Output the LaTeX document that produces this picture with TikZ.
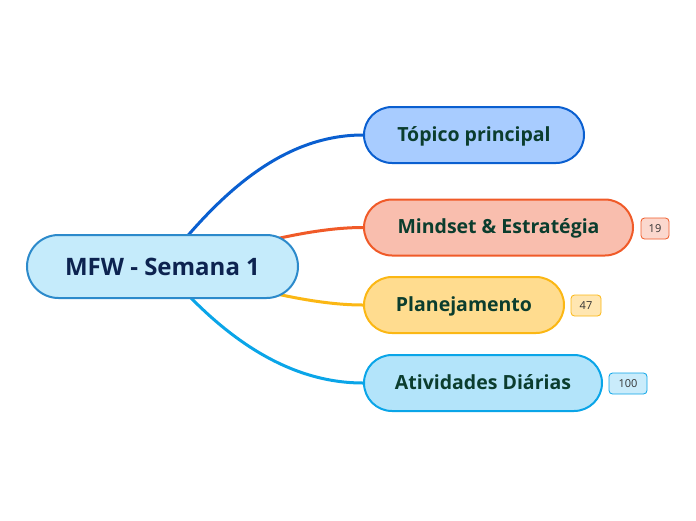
\documentclass[tikz,border=0pt]{standalone}
\usepackage{fontspec}
\setmainfont{Open Sans}
\usetikzlibrary{positioning}
\pgfdeclarelayer{bg}
\pgfsetlayers{bg,main}
\definecolor{txtgreen}{HTML}{0B3D2E}
\definecolor{navy}{HTML}{0D2350}
\definecolor{cfill}{HTML}{C5EBFB}
\definecolor{cline}{HTML}{2C8ACB}
\definecolor{tfill}{HTML}{A8CCFF}
\definecolor{tline}{HTML}{0A5FD0}
\definecolor{mfill}{HTML}{F9BEAE}
\definecolor{mline}{HTML}{F05A28}
\definecolor{pfill}{HTML}{FFDC8F}
\definecolor{pline}{HTML}{FBB714}
\definecolor{afill}{HTML}{B3E4FA}
\definecolor{aline}{HTML}{0AA5E8}
\tikzset{
  x=1pt,y=-1pt,
  topicbox/.style={draw=#1, line width=2pt, rounded corners=28pt, minimum height=56pt, inner sep=0pt,
     text height=14pt, text depth=2pt,
     font=\fontsize{19.5}{23}\selectfont\bfseries, text=txtgreen},
  badge/.style={draw=#1, line width=0.8pt, rounded corners=3.5pt, minimum height=21pt, inner sep=0pt,
     text height=8pt, text depth=1pt,
     font=\fontsize{11}{13}\selectfont, text=black!80},
  link/.style={draw=#1, line width=3pt},
}
\begin{document}
\begin{tikzpicture}
\useasboundingbox (0,0) rectangle (696,520);
\node[draw=cline, fill=cfill, line width=2pt, rounded corners=31.5pt, minimum width=271pt, minimum height=63pt,
  inner sep=0pt, font=\fontsize{24}{28}\selectfont\bfseries, text=navy] (c) at (162.5,266.5) {MFW - Semana 1};
\node[topicbox=tline, fill=tfill, minimum width=220pt] (t) at (474,135) {Tópico principal};
\node[topicbox=mline, fill=mfill, minimum width=269pt] (m) at (498.5,227.5) {Mindset \& Estratégia};
\node[topicbox=pline, fill=pfill, minimum width=200pt] (p) at (464,305) {Planejamento};
\node[topicbox=aline, fill=afill, minimum width=238pt] (a) at (483,383) {Atividades Diárias};
\node[badge=mline, fill=mfill!60, minimum width=28pt] (mb) at (655,228.5) {19};
\node[badge=pline, fill=pfill!70, minimum width=30pt] (pb) at (586,305.5) {47};
\node[badge=aline, fill=afill!70, minimum width=38pt] (ab) at (628,383.5) {100};
\begin{pgfonlayer}{bg}
\draw[link=tline] (c.center) to[out=52, in=180, looseness=0.9] (t.west);
\draw[link=mline] (c.center) to[out=12, in=180, looseness=0.8] (m.west);
\draw[link=pline] (c.center) to[out=-12, in=180, looseness=0.8] (p.west);
\draw[link=aline] (c.center) to[out=-50, in=180, looseness=0.9] (a.west);
\end{pgfonlayer}
\end{tikzpicture}
\end{document}
